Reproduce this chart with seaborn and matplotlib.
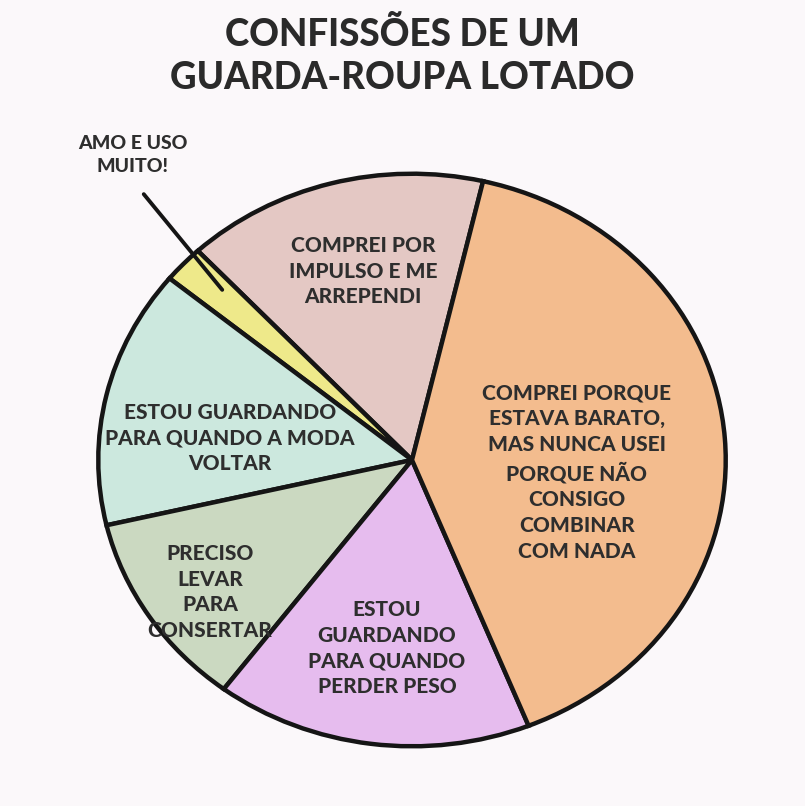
import matplotlib
matplotlib.use("Agg")
import matplotlib.pyplot as plt
import seaborn as sns

sns.set_theme(style="white")
plt.rcParams['font.family'] = ['Lato', 'DejaVu Sans']

# Data (share of wardrobe, %), counterclockwise from the top
categories = [
    "COMPREI POR\nIMPULSO E ME\nARREPENDI",
    "AMO E USO\nMUITO!",
    "ESTOU GUARDANDO\nPARA QUANDO A MODA\nVOLTAR",
    "PRECISO\nLEVAR\nPARA\nCONSERTAR",
    "ESTOU\nGUARDANDO\nPARA QUANDO\nPERDER PESO",
    "COMPREI PORQUE\nESTAVA BARATO,\nMAS NUNCA USEI\nPORQUE NÃO\nCONSIGO\nCOMBINAR\nCOM NADA",
]
values = [15.6, 2.1, 14.6, 11.1, 16.3, 40.3]
colors = ["#E4C8C4", "#EEE98A", "#CCE8DE", "#CBD9C1", "#E6BCEE", "#F3BC8E"]
title = "CONFISSÕES DE UM\nGUARDA-ROUPA LOTADO"

W, H = 805, 806
fig = plt.figure(figsize=(W / 100, H / 100), dpi=100, facecolor="#FBF8FA")

def fx(px):
    return px / W

def fy(py):
    return 1 - py / H

ax = fig.add_axes([fx(92), fy(752), 640 / W, 584 / H])
ax.set_facecolor("none")
ax.pie(values, colors=colors, startangle=76.9, counterclock=True,
       wedgeprops=dict(edgecolor="#151515", linewidth=3.2))
ax.set_xlim(-1.02, 1.02)
ax.set_ylim(-1.02, 1.02)
ax.set_aspect("auto")
ax.axis("off")

fig.text(0.5, fy(56), title, ha="center", va="center", fontsize=26.5,
         fontweight="black", color="#2A2A2A", linespacing=1.35)

label_pos = [(363, 271), (133, 155), (230, 438), (210, 592), (387, 648), (577, 472)]
sizes = [15, 14, 15, 15, 15, 15]
for lab, (px, py), fs in zip(categories, label_pos, sizes):
    fig.text(fx(px), fy(py), lab, ha="center", va="center", fontsize=fs,
             fontweight="black", color="#2E2E2E", linespacing=1.42)

# pointer for the small slice
fig.add_artist(matplotlib.patches.FancyArrowPatch(
    (fx(142), fy(192)), (fx(224), fy(292)), transform=fig.transFigure,
    arrowstyle="-", color="#151515", linewidth=2.8))

fig.savefig("out.png", dpi=100, facecolor=fig.get_facecolor())
